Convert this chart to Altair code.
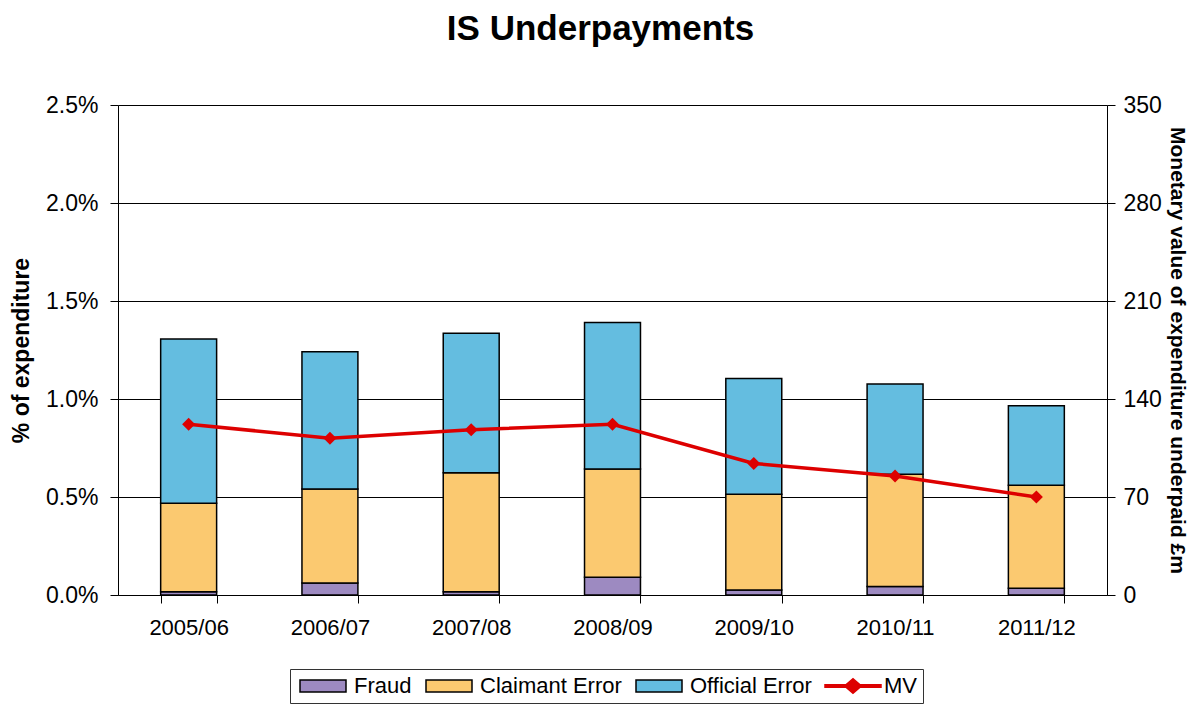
import altair as alt
import pandas as pd

years = ["2005/06", "2006/07", "2007/08", "2008/09", "2009/10", "2010/11", "2011/12"]
fraud_pct = [0.017, 0.061, 0.017, 0.090, 0.026, 0.043, 0.034]
claimant_pct = [0.451, 0.480, 0.607, 0.553, 0.488, 0.573, 0.526]
official_pct = [0.838, 0.700, 0.711, 0.747, 0.590, 0.461, 0.406]
mv_gbp_m = [122, 112, 118, 122, 94, 85, 70]

series = ["Fraud", "Claimant Error", "Official Error", "MV"]
fills = ["#9d8ac1", "#fbc970", "#64bde0", "#dd0000"]
strokes = ["#000000", "#000000", "#000000", "#dd0000"]
# legend symbol outlines (symbolSize 256 -> unit = 8px)
rect_path = "M-2.875,-0.75H2.875V0.75H-2.875Z"
mv_path = ("M-3.5,-0.17H-0.85L0,-0.9L0.85,-0.17H3.5V0.17H0.85L0,0.9L-0.85,0.17H-3.5Z")
shapes = [rect_path, rect_path, rect_path, mv_path]

rows = []
for i, yr in enumerate(years):
    for k, (name, vals) in enumerate(zip(series[:3], [fraud_pct, claimant_pct, official_pct])):
        rows.append({"year": yr, "series": name, "order": k, "value": vals[i] / 100})
bars_df = pd.DataFrame(rows)
mv_df = pd.DataFrame({"year": years, "series": ["MV"] * len(years), "mv": mv_gbp_m})

FONT = "Liberation Sans"

color_scale = alt.Scale(domain=series, range=fills)
stroke_scale = alt.Scale(domain=series, range=strokes)
shape_scale = alt.Scale(domain=series, range=shapes)

legend = alt.Legend(
    title=None, orient="none", legendX=172, legendY=564, direction="horizontal",
    columns=4, symbolSize=256, symbolStrokeWidth=1.5, symbolOpacity=1, symbolOffset=16,
    labelFontSize=22, labelFont=FONT, labelColor="black", labelOffset=20,
    columnPadding=10, padding=6, strokeColor="#333333",
)

x_enc = alt.X(
    "year:N", sort=years, title=None,
    scale=alt.Scale(paddingInner=0.604, paddingOuter=0.302),
    axis=alt.Axis(labelAngle=0, tickBand="extent", tickSize=8, labelPadding=14,
                  labelFontSize=22, labelFont=FONT, labelColor="black",
                  domainColor="black", tickColor="black", grid=False),
)

left_axis = alt.Axis(
    title="% of expenditure", format=".1%", values=[0, 0.005, 0.01, 0.015, 0.02, 0.025],
    titleFontSize=23, titleFontWeight="bold", titleFont=FONT, titleColor="black", titlePadding=12,
    labelFontSize=23, labelFont=FONT, labelColor="black", labelPadding=12, tickSize=8,
    tickColor="black", domainColor="black", grid=True, gridColor="black", gridWidth=1,
)
right_axis = alt.Axis(
    orient="right", title="Monetary value of expenditure underpaid £m",
    values=[0, 70, 140, 210, 280, 350],
    titleFontSize=21, titleFontWeight="bold", titleFont=FONT, titleColor="black", titlePadding=5,
    labelFontSize=23, labelFont=FONT, labelColor="black", labelPadding=8, tickSize=8,
    tickColor="black", domainColor="black", grid=False,
)

bars = alt.Chart(bars_df).mark_bar(strokeWidth=1.5).encode(
    x=x_enc,
    y=alt.Y("value:Q", stack="zero", scale=alt.Scale(domain=[0, 0.025], nice=False), axis=left_axis),
    color=alt.Color("series:N", scale=color_scale, legend=legend),
    stroke=alt.Stroke("series:N", scale=stroke_scale, legend=legend),
    order=alt.Order("order:Q", sort="ascending"),
)

y_mv = alt.Y("mv:Q", scale=alt.Scale(domain=[0, 350], nice=False), axis=right_axis)

line = alt.Chart(mv_df).mark_line(color="#dd0000", strokeWidth=3.5).encode(x=x_enc, y=y_mv)
points = alt.Chart(mv_df).mark_point(shape="diamond", filled=True, size=170, color="#dd0000", opacity=1).encode(
    x=x_enc, y=y_mv)
legend_layer = alt.Chart(mv_df).transform_filter("false").mark_point(filled=True).encode(
    x=x_enc, y=y_mv,
    color=alt.Color("series:N", scale=color_scale, legend=legend),
    stroke=alt.Stroke("series:N", scale=stroke_scale, legend=legend),
    shape=alt.Shape("series:N", scale=shape_scale, legend=legend),
)

mv_layer = alt.layer(line, points, legend_layer)

chart = alt.layer(bars, mv_layer).resolve_scale(y="independent").properties(
    width=989, height=490,
    title=alt.TitleParams("IS Underpayments", fontSize=35, font=FONT, fontWeight="bold",
                          color="black", anchor="middle", offset=47, dx=-12),
    padding={"left": 2, "top": 4, "right": 3, "bottom": 0},
).configure_view(stroke=None).configure(font=FONT)

chart.save("out.html", embed_options={"renderer": "svg", "actions": False})
